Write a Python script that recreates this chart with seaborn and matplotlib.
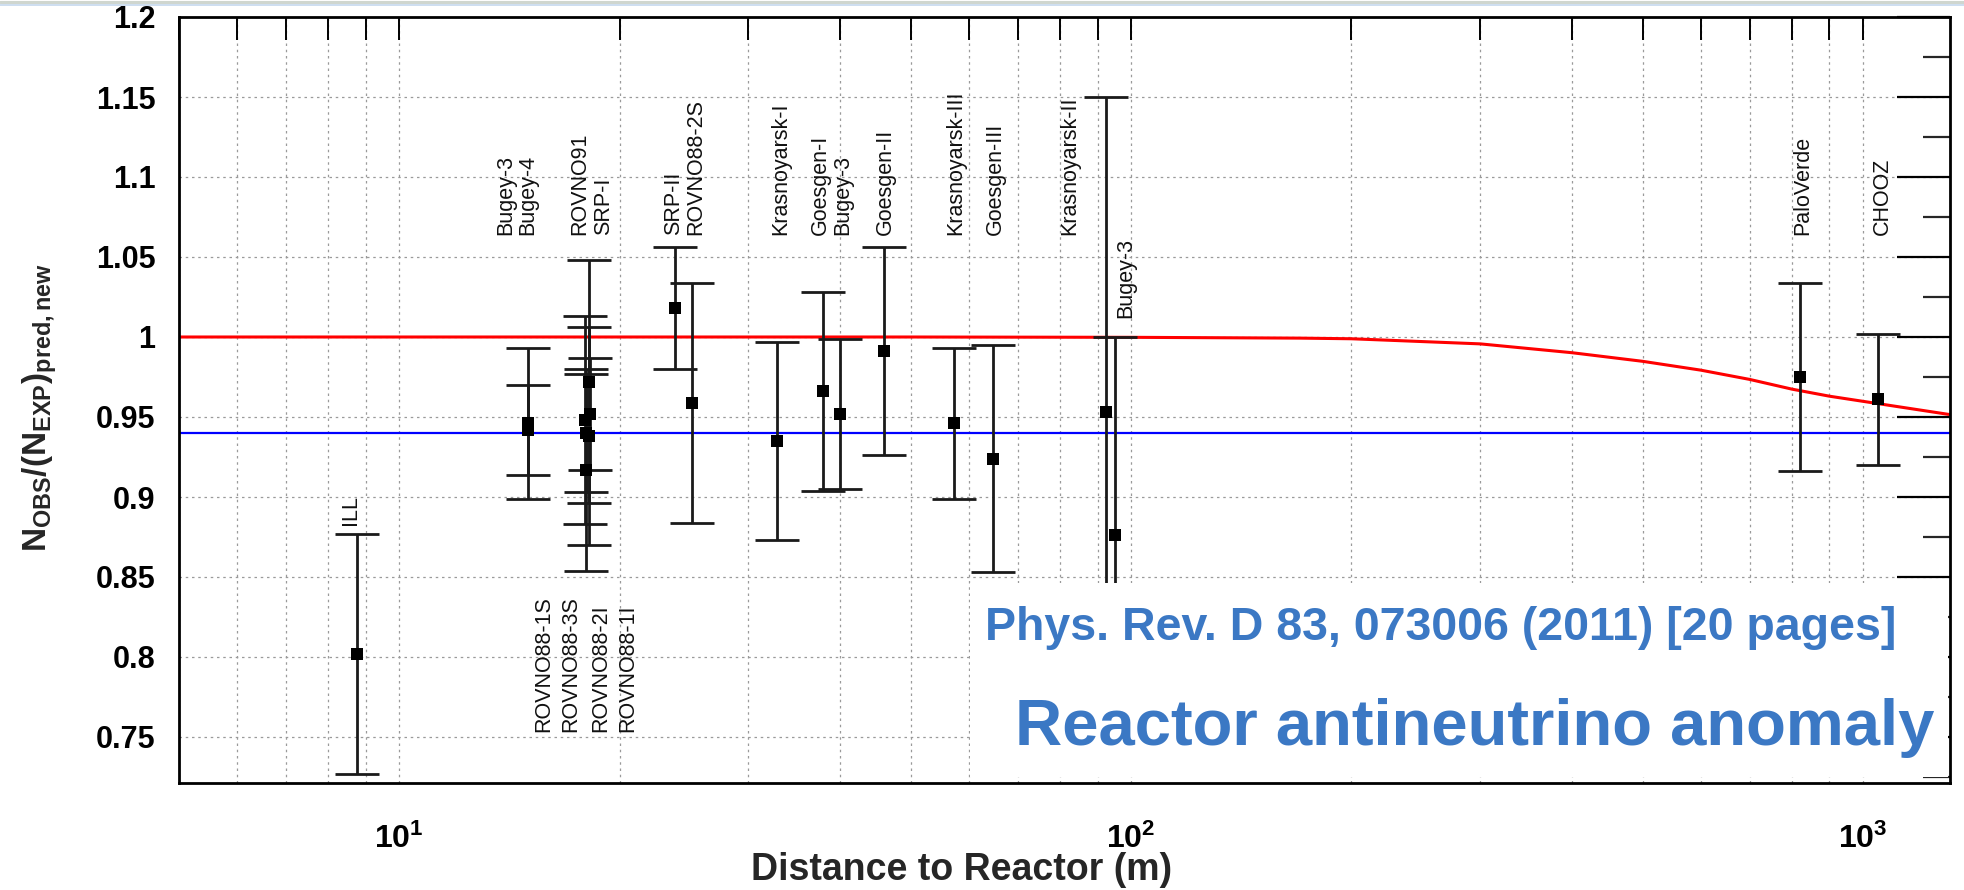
import numpy as np
import seaborn as sns
import matplotlib.pyplot as plt
from matplotlib.lines import Line2D
from matplotlib.patches import Rectangle
from matplotlib.ticker import MultipleLocator, LogLocator, FuncFormatter, NullFormatter

# measured ratio per reactor experiment
experiments = ['Bugey-4', 'ROVNO91', 'Bugey-3', 'Bugey-3', 'Bugey-3', 'Goesgen-I', 'Goesgen-II',
               'Goesgen-III', 'ILL', 'Krasnoyarsk-I', 'Krasnoyarsk-II', 'Krasnoyarsk-III', 'SRP-I',
               'SRP-II', 'ROVNO88-1I', 'ROVNO88-2I', 'ROVNO88-1S', 'ROVNO88-2S', 'ROVNO88-3S',
               'PaloVerde', 'CHOOZ']
distance_m = [15, 18, 15, 40, 95, 37.9, 45.9, 64.7, 8.76, 32.8, 92.3, 57.3, 18.2,
              23.8, 18.0, 17.96, 18.15, 25.15, 18.18, 820, 1050]
ratio = [0.942, 0.940, 0.946, 0.952, 0.876, 0.966, 0.991, 0.924, 0.802, 0.935, 0.953, 0.946, 0.952,
         1.018, 0.917, 0.948, 0.972, 0.959, 0.938, 0.975, 0.961]
ratio_err = [0.028, 0.037, 0.047, 0.047, 0.124, 0.062, 0.065, 0.071, 0.075, 0.062, 0.197, 0.047, 0.035,
             0.038, 0.063, 0.065, 0.076, 0.075, 0.068, 0.059, 0.041]

# oscillation curve (red) and mean ratio (blue)
osc_distance_m = [5, 50, 100, 170, 200, 300, 400, 500, 600, 700, 800, 900, 1000, 1315]
osc_ratio = [1.0, 1.0, 0.9998, 0.9993, 0.9989, 0.9957, 0.9902, 0.9848, 0.9793, 0.9735,
             0.9674, 0.963, 0.9598, 0.9515]
mean_ratio = 0.94

# experiment names written above / below the points
top_labels = ['Bugey-3', 'Bugey-4', 'ROVNO91', 'SRP-I', 'SRP-II', 'ROVNO88-2S', 'Krasnoyarsk-I',
              'Goesgen-I', 'Bugey-3', 'Goesgen-II', 'Krasnoyarsk-III', 'Goesgen-III',
              'Krasnoyarsk-II', 'PaloVerde', 'CHOOZ']
top_label_x = [13.96, 15.0, 17.67, 19.0, 23.67, 25.4, 33.2, 37.6, 40.4, 46.1, 57.5, 65.2, 82.5, 828, 1064]
bottom_labels = ['ROVNO88-1S', 'ROVNO88-3S', 'ROVNO88-2I', 'ROVNO88-1I']
bottom_label_x = [15.73, 17.13, 18.83, 20.55]

sns.set_theme(style='white')
plt.rcParams['font.family'] = ['Liberation Sans', 'DejaVu Sans']
plt.rcParams['font.weight'] = 'bold'
plt.rcParams['mathtext.fontset'] = 'custom'
plt.rcParams['mathtext.rm'] = 'Liberation Sans:bold'
plt.rcParams['mathtext.it'] = 'Liberation Sans:bold'
plt.rcParams['mathtext.bf'] = 'Liberation Sans:bold'
plt.rcParams['mathtext.default'] = 'rm'

W, H = 1964, 890
fig = plt.figure(figsize=(W / 100, H / 100), dpi=100)
ax = fig.add_axes([179 / W, 1 - 783 / H, 1771 / W, 766 / H])

ax.set_xscale('log')
ax.set_xlim(5.0, 1315)
ax.set_ylim(0.72125, 1.2)

grid_kw = dict(color='#9a9a9a', lw=0.9, ls=(0, (2, 3)))
ax.grid(True, which='major', axis='y', **grid_kw)
ax.grid(True, which='both', axis='x', **grid_kw)

sns.lineplot(x=osc_distance_m, y=osc_ratio, color='red', lw=2.2, ax=ax, zorder=2)
ax.axhline(mean_ratio, color='blue', lw=1.6, zorder=2)

ax.errorbar(distance_m, ratio, yerr=ratio_err, fmt='none', ecolor='#1a1a1a',
            elinewidth=2.0, capsize=15.5, capthick=2.0, zorder=3)
sns.scatterplot(x=distance_m, y=ratio, marker='s', color='black', s=75, linewidth=0,
                ax=ax, zorder=4)

lab_kw = dict(rotation=90, ha='center', va='bottom', fontsize=15.5, fontweight='normal',
              color='#111111')
for name, x in zip(top_labels, top_label_x):
    ax.text(x, 1.0638, name, **lab_kw)
ax.text(98.4, 1.012, 'Bugey-3', **lab_kw)
ax.text(8.57, 0.8825, 'ILL', **lab_kw)
for name, x in zip(bottom_labels, bottom_label_x):
    ax.text(x, 0.7531, name, **lab_kw)

# ticks in ROOT style
ax.yaxis.set_major_locator(MultipleLocator(0.05))
ax.yaxis.set_minor_locator(MultipleLocator(0.025))
ax.yaxis.set_major_formatter(FuncFormatter(lambda v, _: f'{v:g}'))
ax.xaxis.set_major_locator(LogLocator(base=10))
ax.xaxis.set_minor_locator(LogLocator(base=10, subs=np.arange(2, 10)))
ax.xaxis.set_minor_formatter(NullFormatter())
ax.tick_params(axis='y', which='major', direction='in', length=38, width=1.6, right=True,
               labelsize=22, pad=17, colors='black')
ax.tick_params(axis='y', which='minor', direction='in', length=19.5, width=1.6, right=True)
ax.tick_params(axis='x', which='both', direction='in', length=16.5, width=1.4, top=True,
               labelsize=23, pad=29, colors='black')
for s in ax.spines.values():
    s.set_color('black')
    s.set_linewidth(2.0)

ax.set_ylabel(r'$N_{OBS}/(N_{EXP})_{pred,new}$', fontsize=24, fontweight='bold')
ax.yaxis.set_label_coords(-0.068, 0.49)
ax.set_xlabel('Distance to Reactor (m)', fontsize=27, fontweight='bold')
ax.xaxis.set_label_coords(0.4416, -0.090)

# white box with the reference text
ax.add_patch(Rectangle((970 / W, 1 - 777 / H), 978 / W, 194 / H, transform=fig.transFigure,
                       facecolor='white', edgecolor='none', clip_on=False, zorder=5))
blue = '#3b78c4'
fig.text(985 / W, 1 - 640 / H, 'Phys. Rev. D 83, 073006 (2011) [20 pages]', color=blue,
         fontsize=33.5, fontweight='bold', va='baseline', ha='left', zorder=6)
fig.text(1015 / W, 1 - 745 / H, 'Reactor antineutrino anomaly', color=blue,
         fontsize=47, fontweight='bold', va='baseline', ha='left', zorder=6)

# thin window border at the very top
fig.add_artist(Line2D([0, 1], [1 - 1.5 / H] * 2, color='#cfd6cf', lw=2.2))
fig.add_artist(Line2D([0, 1], [1 - 4.5 / H] * 2, color='#c5d8ee', lw=1.2))

fig.savefig('out.png', dpi=100)
